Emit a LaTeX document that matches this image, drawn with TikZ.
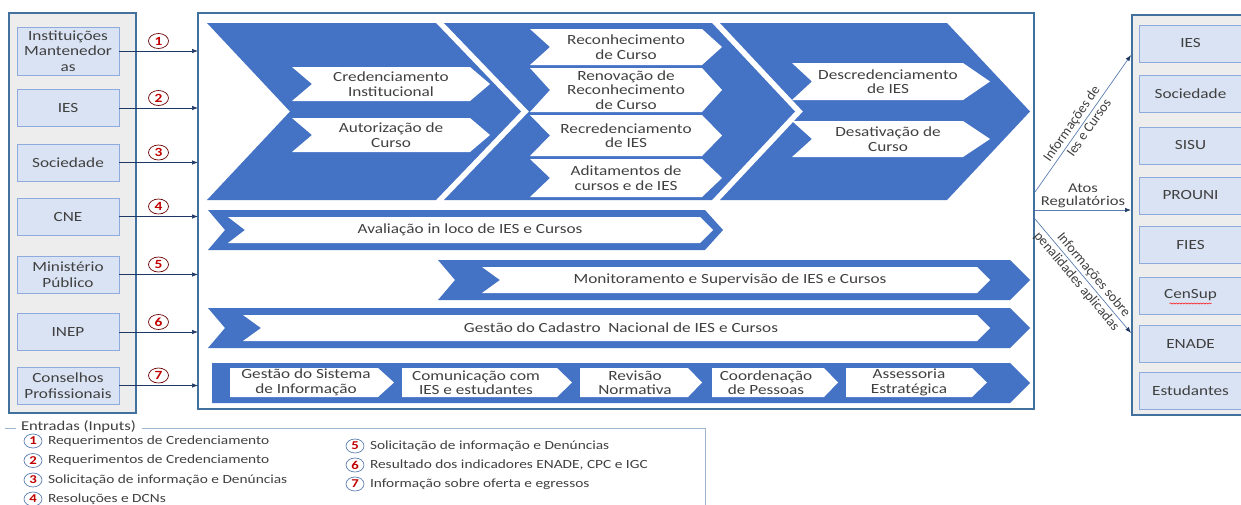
\documentclass[tikz,border=0pt]{standalone}
\usepackage{fontspec}
\setmainfont{Carlito}[FakeStretch=1.23]
\newfontfamily\plainfont{Carlito}
\usetikzlibrary{shapes.geometric,arrows.meta,calc,decorations.pathmorphing}
\definecolor{chev}{HTML}{4472C4}
\definecolor{frame}{HTML}{41719C}
\definecolor{panel}{HTML}{EDEDED}
\definecolor{boxfill}{HTML}{DAE3F3}
\definecolor{boxline}{HTML}{8FAADC}
\definecolor{txt}{HTML}{404040}
\definecolor{arr}{HTML}{203864}
\definecolor{outln}{HTML}{5B7DB1}
\definecolor{numred}{HTML}{C00000}
\definecolor{legline}{HTML}{9DB4CC}
\newcommand{\mychev}[7]{%
  \fill[#1] (#2,#5) -- (#3,#5) -- (#4,{(#5+#6)/2}) -- (#3,#6) -- (#2,#6) -- ({#2+#7},{(#5+#6)/2}) -- cycle;}
\begin{document}
\begin{tikzpicture}[x=1pt,y=-1pt,
  every node/.style={inner sep=0pt, outer sep=0pt},
  basetext/.style={font=\fontsize{14}{14.5}\selectfont, text=txt, align=center},
  srcbox/.style={basetext, font=\fontsize{14}{15.5}\selectfont, draw=boxline, line width=0.8pt, fill=boxfill, minimum width=102, minimum height=37},
  dstbox/.style={basetext, draw=boxline, line width=0.8pt, fill=boxfill, minimum width=103, minimum height=37},
  itxt/.style={basetext},
  inarrow/.style={draw=arr, line width=0.7pt, -{Latex[length=6pt,width=4.5pt]}},
  outarrow/.style={draw=outln, line width=0.7pt, -{Latex[length=6pt,width=4.5pt,color=arr]}},
  numa/.style={ellipse, draw=numred!55!black, line width=0.7pt, minimum width=20, minimum height=15, text=numred, font=\bfseries\fontsize{12.5}{12.5}\selectfont},
  numl/.style={ellipse, draw=outln, line width=0.7pt, minimum width=18, minimum height=14, text=numred, font=\bfseries\fontsize{12}{12}\selectfont},
  lbl/.style={font=\plainfont\fontsize{14}{14}\selectfont, text=txt},
  lbls/.style={font=\fontsize{13.5}{13.5}\selectfont, text=txt, align=center},
  legtxt/.style={font=\fontsize{12.5}{12.5}\selectfont, text=txt, anchor=west}
]
\useasboundingbox (0,0) rectangle (1241,504);

% panels
\node[draw=frame, line width=2pt, fill=panel, minimum width=127, minimum height=400] (lp) at (72.5,213) {};
\node[draw=frame, line width=2pt, fill=panel, minimum width=118, minimum height=400] (rp) at (1191,215) {};
\node[draw=frame, line width=2.4pt, fill=white, minimum width=836, minimum height=396] (mid) at (616,211) {};

% source boxes
\node[srcbox, minimum height=48] (s1) at (68,51) {Instituições\\Mantenedor\\as};
\node[srcbox] (s2) at (68,108) {IES};
\node[srcbox] (s3) at (68,162.5) {Sociedade};
\node[srcbox] (s4) at (68,216.5) {CNE};
\node[srcbox] (s5) at (68,274.5) {Ministério\\Público};
\node[srcbox] (s6) at (68,332) {INEP};
\node[srcbox] (s7) at (68,385.5) {Conselhos\\Profissionais};

\foreach \i in {1,...,7}{
  \draw[inarrow] (s\i.east) -- (s\i.east -| mid.west) node[midway, above=2.5pt, numa, name=c\i] {\i};
}

% big chevrons
\mychev{chev}{207}{436}{521}{23}{200}{83}
\mychev{chev}{444}{712}{795}{23}{200}{85}
\mychev{chev}{720}{947}{1030}{23}{200}{83}

\mychev{white}{292}{470}{490}{67}{101}{20}
\mychev{white}{292}{470}{490}{118}{152}{20}
\mychev{white}{530}{702}{722}{29}{65}{20}
\mychev{white}{530}{702}{722}{68}{112}{20}
\mychev{white}{530}{702}{722}{115}{156}{20}
\mychev{white}{530}{702}{722}{159}{197}{20}
\mychev{white}{792}{963}{990}{63}{100}{20}
\mychev{white}{792}{963}{990}{121}{157}{20}

\node[itxt] (t11) at (391,84) {Credenciamento\\Institucional};
\node[itxt] (t12) at (391,135) {Autorização de\\Curso};
\node[itxt] (t21) at (626,47) {Reconhecimento\\de Curso};
\node[itxt] (t22) at (626,90) {Renovação de\\Reconhecimento\\de Curso};
\node[itxt] (t23) at (626,135.5) {Recredenciamento\\de IES};
\node[itxt] (t24) at (626,178) {Aditamentos de\\cursos e de IES};
\node[itxt] (t31) at (888,81.5) {Descredenciamento\\de IES};
\node[itxt] (t32) at (888,139) {Desativação de\\Curso};

% bands
\mychev{chev}{208}{705}{723}{210}{250}{17}
\mychev{white}{228}{700}{713}{217}{243}{17}
\node[itxt] (ba) at (470,230) {Avaliação in loco de IES e Cursos};

\mychev{chev}{438}{1010}{1030}{260}{300}{17}
\mychev{white}{482}{977}{990}{267}{293}{18}
\node[itxt] (bm) at (730,280) {Monitoramento e Supervisão de IES e Cursos};

\mychev{chev}{208}{1010}{1030}{308}{348}{17}
\mychev{white}{243}{977}{990}{315}{341}{18}
\node[itxt] (bg) at (621,328) {Gestão do Cadastro~ Nacional de IES e Cursos};

\mychev{chev}{212}{1010}{1030}{363}{403}{0}
\mychev{white}{230}{378}{394}{368}{397}{0}
\mychev{white}{402}{557}{572}{368}{397}{0}
\mychev{white}{580}{688}{702}{368}{397}{0}
\mychev{white}{712}{824}{838}{368}{397}{0}
\mychev{white}{846}{972}{987}{368}{397}{0}
\node[itxt] (b1) at (306,382.5) {Gestão do Sistema\\de Informação};
\node[itxt] (b2) at (476,382.5) {Comunicação com\\IES e estudantes};
\node[itxt] (b3) at (635,382.5) {Revisão\\Normativa};
\node[itxt] (b4) at (766,382.5) {Coordenação\\de Pessoas};
\node[itxt] (b5) at (909,382.5) {Assessoria\\Estratégica};

% destination boxes
\node[dstbox] (d1) at (1190.5,43.5) {IES};
\node[dstbox] (d2) at (1190.5,93.5) {Sociedade};
\node[dstbox] (d3) at (1190.5,145.5) {SISU};
\node[dstbox] (d4) at (1190.5,195.5) {PROUNI};
\node[dstbox] (d5) at (1190.5,245) {FIES};
\node[dstbox] (d6) at (1190.5,295.5) {CenSup};
\node[dstbox] (d7) at (1190.5,343.5) {ENADE};
\node[dstbox] (d8) at (1190.5,391) {Estudantes};
\draw[red, line width=0.5pt, decorate, decoration={snake, amplitude=0.6pt, segment length=3pt}] ($(d6.center)+(-21,8)$) -- ($(d6.center)+(21,8)$);

% output arrows
\coordinate (o1) at ($(mid.east)+(1,-19)$);
\coordinate (o2) at ($(mid.east)+(1,-1)$);
\coordinate (o3) at ($(mid.east)+(1,8)$);
\coordinate (t1) at ($(rp.west)+(-1,-160)$);
\coordinate (t2) at ($(rp.west)+(-1,-5)$);
\coordinate (t3) at ($(rp.west)+(-1,118)$);
\draw[outarrow] (o1) -- (t1)
  node[pos=0.46, sloped, above=2.5pt, lbl, name=l1a] {Informações de}
  node[pos=0.5, sloped, below=2.5pt, lbl, name=l1b] {Ies e Cursos};
\draw[outarrow] (o2) -- (t2) node[midway, above=2pt, lbls, name=l2] {Atos\\Regulatórios};
\draw[outarrow] (o3) -- (t3)
  node[pos=0.54, sloped, above=2.5pt, lbl, name=l3a] {Informações sobre}
  node[pos=0.5, sloped, below=2.5pt, lbl, name=l3b] {penalidades aplicadas};

% legend
\coordinate (lg0) at (5,428);
\coordinate (lg1) at (16,428);
\node[legtxt, font=\fontsize{13.5}{13.5}\selectfont] (lt) at (21,427) {Entradas (Inputs)};
\coordinate (lg2) at ($(lt.east)+(6,1)$);
\coordinate (lg3) at (705,428);
\coordinate (lg4) at (705,506);
\draw[legline, line width=0.8pt] (lg0) -- (lg1);
\draw[legline, line width=0.8pt] (lg2) -- (lg3) -- (lg4);

\node[numl] (g1) at (33,441) {1};
\node[legtxt] (gt1) at (48,441) {Requerimentos de Credenciamento};
\node[numl] (g2) at (33,460.5) {2};
\node[legtxt] (gt2) at (48,460.5) {Requerimentos de Credenciamento};
\node[numl] (g3) at (33,480) {3};
\node[legtxt] (gt3) at (48,480) {Solicitação de informação e Denúncias};
\node[numl] (g4) at (33,499) {4};
\node[legtxt] (gt4) at (48,499) {Resoluções e DCNs};
\node[numl] (g5) at (355,446) {5};
\node[legtxt] (gt5) at (370,446) {Solicitação de informação e Denúncias};
\node[numl] (g6) at (355,465) {6};
\node[legtxt] (gt6) at (370,465) {Resultado dos indicadores ENADE, CPC e IGC};
\node[numl] (g7) at (355,484) {7};
\node[legtxt] (gt7) at (370,484) {Informação sobre oferta e egressos};
\end{tikzpicture}
\end{document}
